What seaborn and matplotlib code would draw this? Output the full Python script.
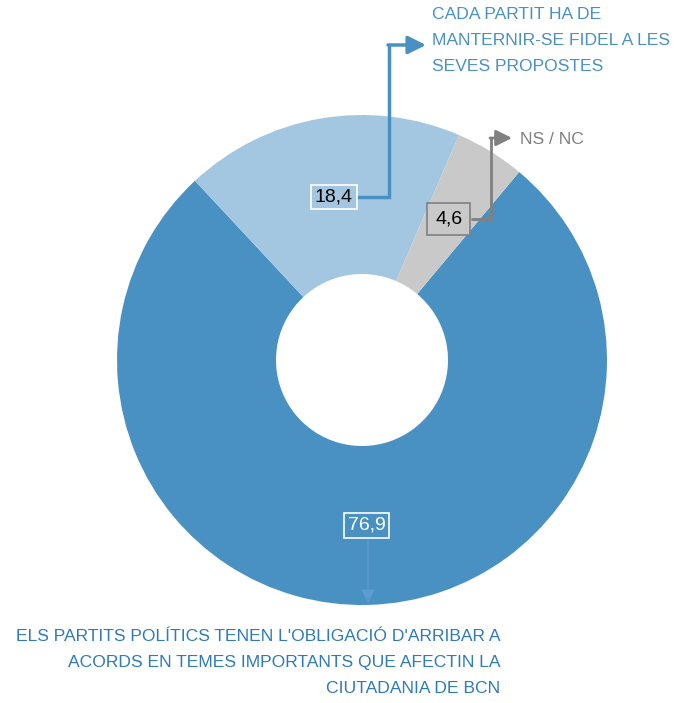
import numpy as np
import matplotlib
matplotlib.use("Agg")
import matplotlib.pyplot as plt
import seaborn as sns

# Dades del gràfic
categories = [
    "ELS PARTITS POLÍTICS TENEN L'OBLIGACIÓ D'ARRIBAR A\nACORDS EN TEMES IMPORTANTS QUE AFECTIN LA\nCIUTADANIA DE BCN",
    "CADA PARTIT HA DE\nMANTERNIR-SE FIDEL A LES\nSEVES PROPOSTES",
    "NS / NC",
]
values = [76.9, 18.4, 4.6]
value_labels = ["76,9", "18,4", "4,6"]

slice_colors = ["#4a91c3", "#a4c7e1", "#c9c9c9"]
text_colors = ["#2f7ab9", "#4a91c3", "#808080"]

sns.set_theme(style="white")
plt.rcParams["font.family"] = ["Liberation Sans Narrow", "Liberation Sans", "DejaVu Sans"]

W, H = 677, 703
fig = plt.figure(figsize=(W / 100, H / 100), dpi=100)
ax = fig.add_axes([0, 0, 1, 1])

cx, cy, R = 362, H - 360, 245
wedges, _ = ax.pie(values, colors=slice_colors, startangle=50.1, counterclock=False,
                   center=(cx, cy), radius=R, frame=True,
                   wedgeprops=dict(width=R - 86, linewidth=0))
ax.set_xlim(0, W)
ax.set_ylim(0, H)
ax.set_aspect("equal")
ax.axis("off")

# Etiquetes de valor a la meitat de cada sector
box_styles = [
    dict(fc=slice_colors[0], ec="white", tc="white", pad=0.2),
    dict(fc=slice_colors[1], ec="white", tc="black", pad=0.2),
    dict(fc=slice_colors[2], ec="#808080", tc="black", pad=0.4),
]
for w, lab, st in zip(wedges, value_labels, box_styles):
    mid = np.deg2rad((w.theta1 + w.theta2) / 2)
    x = cx + 0.675 * R * np.cos(mid)
    y = cy + 0.675 * R * np.sin(mid)
    ax.text(x, y, lab, ha="center", va="center", fontsize=14, color=st["tc"], zorder=5,
            bbox=dict(boxstyle=f"square,pad={st['pad']}", fc=st["fc"], ec=st["ec"], lw=1.2))

def py(y):
    return H - y

# Fletxa sector principal (cap avall)
ax.annotate("", xy=(368, py(606)), xytext=(368, py(537)),
            arrowprops=dict(arrowstyle="-|>,head_width=0.35,head_length=0.7",
                            color="#5a9bd0", lw=1), zorder=4)
ax.text(500, py(629), categories[0], ha="right", va="top", fontsize=12.6,
        color=text_colors[0], linespacing=1.9)

# Fletxa sector 18,4
ax.plot([357, 389, 389], [py(197), py(197), py(45)], color=text_colors[1], lw=2.5,
        solid_capstyle="butt", solid_joinstyle="miter", zorder=4)
ax.annotate("", xy=(426, py(45)), xytext=(388, py(45)),
            arrowprops=dict(arrowstyle="-|>,head_width=0.45,head_length=0.9",
                            color=text_colors[1], lw=2.5, shrinkA=0, shrinkB=0), zorder=4)
ax.text(432, py(7), categories[1], ha="left", va="top", fontsize=12.6,
        color=text_colors[1], linespacing=1.9)

# Fletxa NS / NC
ax.plot([471, 491, 491], [py(219), py(219), py(138)], color="#808080", lw=2,
        solid_capstyle="butt", solid_joinstyle="miter", zorder=4)
ax.annotate("", xy=(512, py(138)), xytext=(490, py(138)),
            arrowprops=dict(arrowstyle="-|>,head_width=0.4,head_length=0.8",
                            color="#808080", lw=2, shrinkA=0, shrinkB=0), zorder=4)
ax.text(520, py(139), categories[2], ha="left", va="center", fontsize=12.6,
        color=text_colors[2])

fig.savefig("out.png", dpi=100)
